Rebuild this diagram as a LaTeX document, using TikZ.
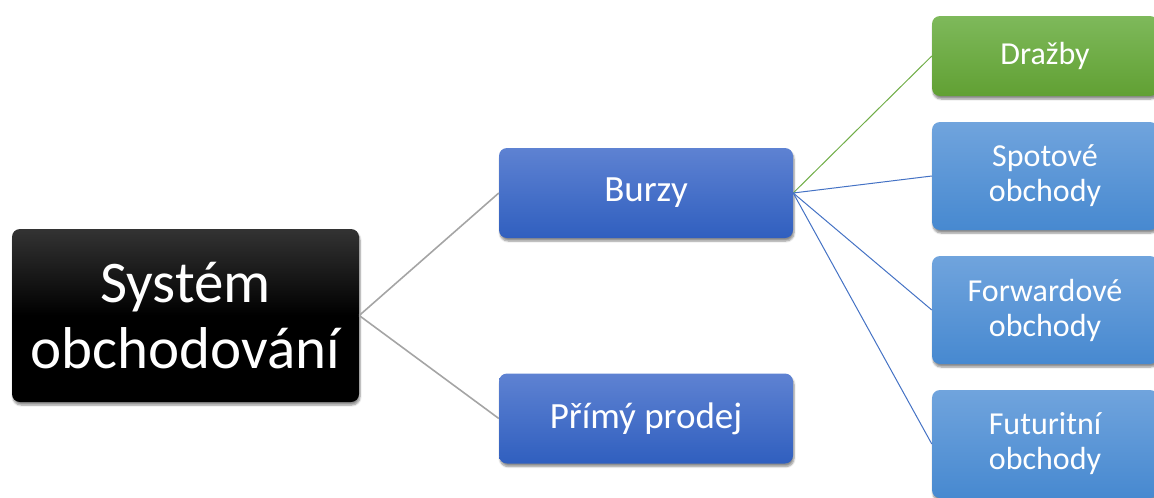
\documentclass[tikz,border=0pt]{standalone}
\usepackage{fontspec}
\setmainfont{Carlito}
\usetikzlibrary{shadows.blur}

\definecolor{blueTop}{HTML}{5E82D2}
\definecolor{blueBot}{HTML}{305FBF}
\definecolor{skyTop}{HTML}{70A4DD}
\definecolor{skyBot}{HTML}{4789D0}
\definecolor{grnTop}{HTML}{7EB95B}
\definecolor{grnBot}{HTML}{61A033}
\definecolor{lineBlue}{HTML}{4472C4}
\definecolor{lineGrn}{HTML}{70AD47}
\definecolor{lineGray}{HTML}{A5A5A5}

\tikzset{
  box/.style={rounded corners=8pt, text=white, align=center, inner sep=0pt,
    blur shadow={shadow xshift=1pt, shadow yshift=-3pt, shadow blur steps=6, shadow opacity=45}},
  rootbox/.style={box, top color=black!80, bottom color=black, middle color=black,
    minimum width=347pt, minimum height=173pt, font=\fontsize{59}{66}\selectfont},
  midbox/.style={box, top color=blueTop, bottom color=blueBot,
    minimum width=294pt, minimum height=90pt, font=\fontsize{37}{44}\selectfont},
  leafbox/.style={box, top color=skyTop, bottom color=skyBot,
    minimum width=226pt, minimum height=108pt, font=\fontsize{32}{35}\selectfont},
}

\begin{document}
\begin{tikzpicture}[x=1pt, y=-1pt]
\useasboundingbox (0,0) rectangle (1154,498);

% nodes
\node[rootbox] (root) at (185.5,315.5) {Systém\\obchodování};
\node[midbox] (burzy) at (646,193) {Burzy};
\node[midbox] (prodej) at (646,418.5) {Přímý prodej};
\node[leafbox, top color=grnTop, bottom color=grnBot, minimum height=80pt] (drazby) at (1045,56) {Dražby};
\node[leafbox] (spot) at (1045,176) {Spotové\\obchody};
\node[leafbox] (fwd) at (1045,310) {Forwardové\\obchody};
\node[leafbox] (fut) at (1045,444) {Futuritní\\obchody};

% connectors
\draw[lineGray, line width=1.6pt] (root.east) -- (burzy.west);
\draw[lineGray, line width=1.6pt] (root.east) -- (prodej.west);
\draw[lineGrn, line width=1pt] (burzy.east) -- (drazby.west);
\draw[lineBlue, line width=1pt] (burzy.east) -- (spot.west);
\draw[lineBlue, line width=1pt] (burzy.east) -- (fwd.west);
\draw[lineBlue, line width=1pt] (burzy.east) -- (fut.west);
\end{tikzpicture}
\end{document}
